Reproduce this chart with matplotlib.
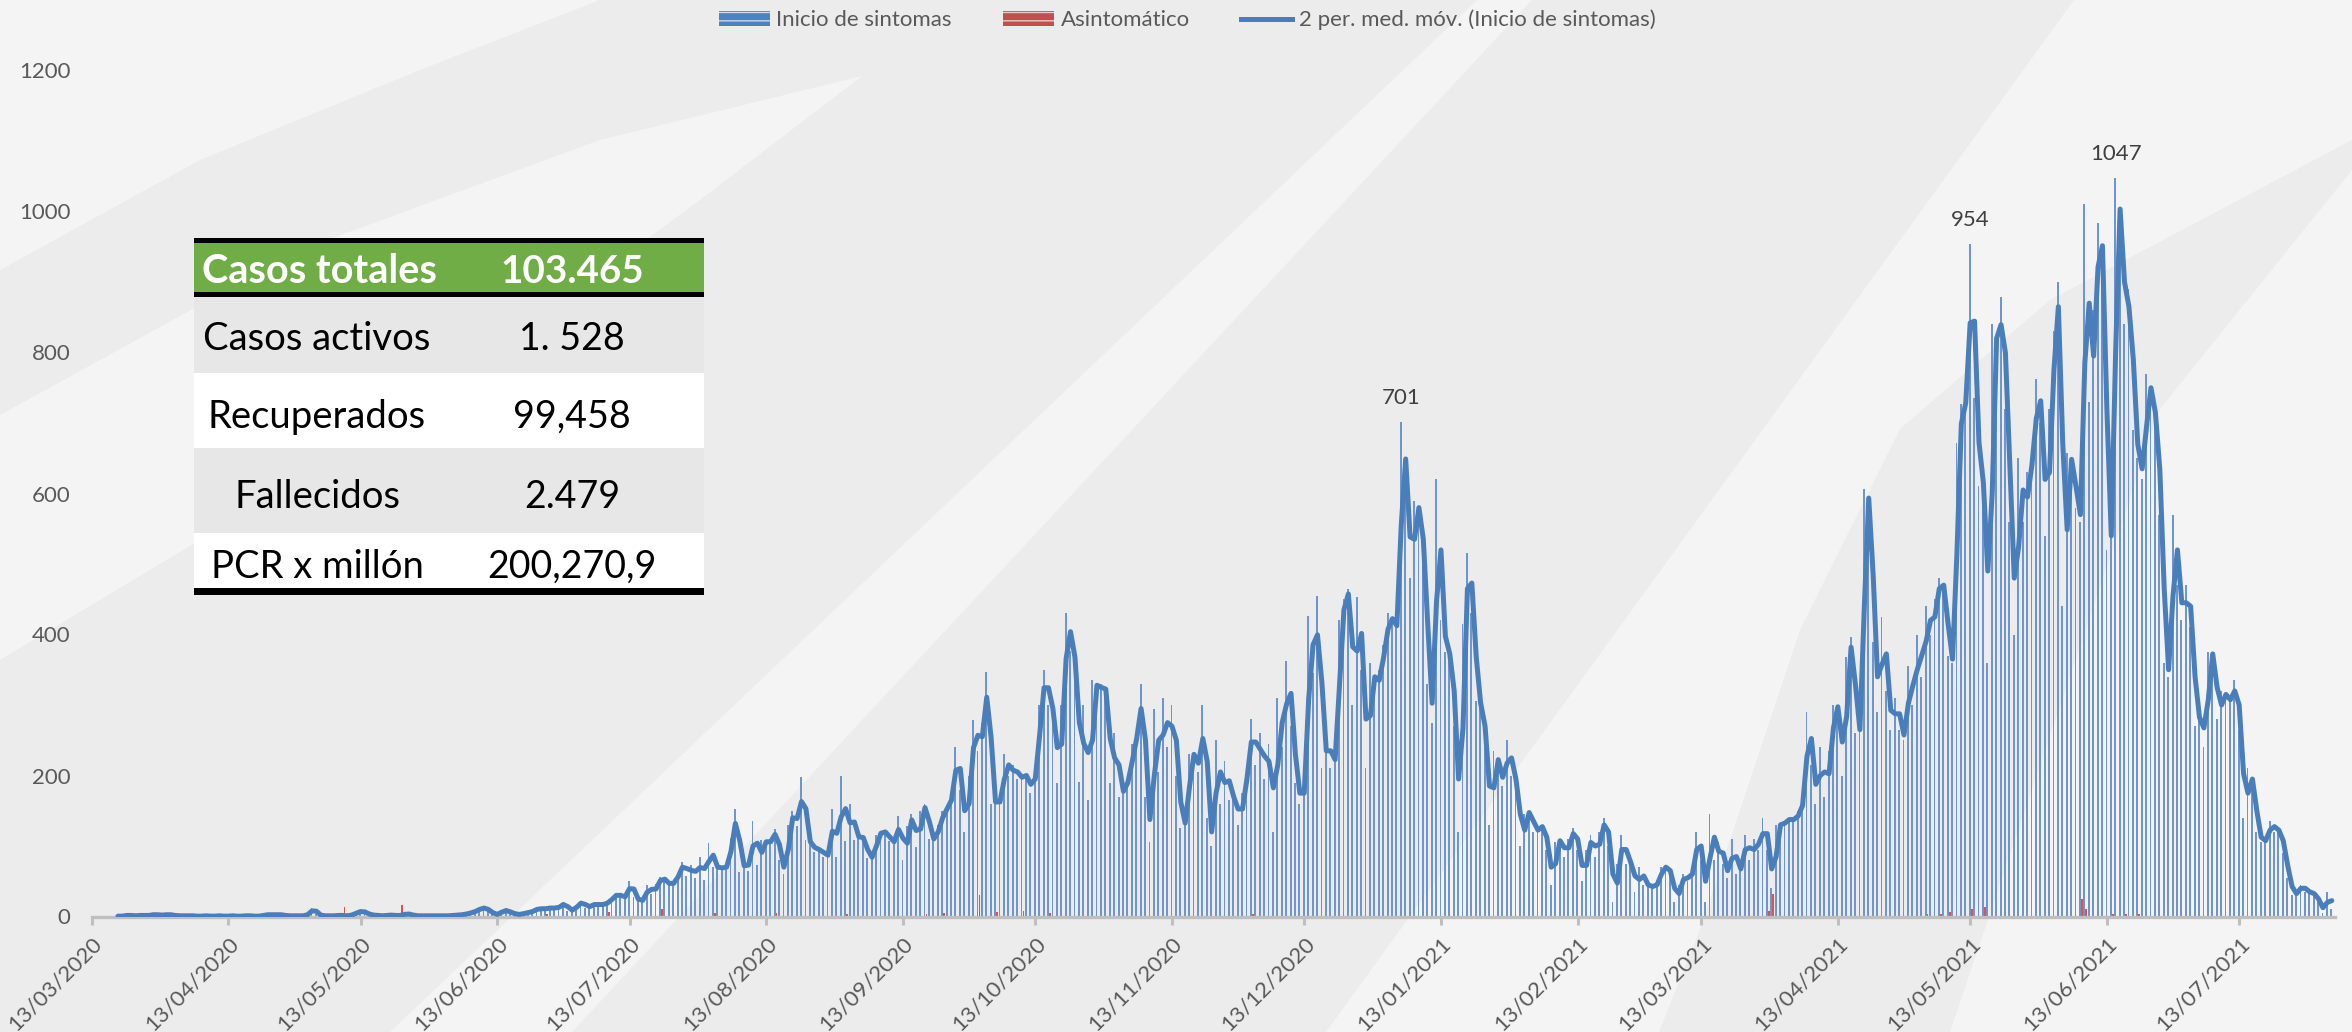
import matplotlib
matplotlib.use("Agg")
import matplotlib.pyplot as plt
import matplotlib.dates as mdates
from matplotlib.patches import Polygon, Rectangle, Patch
from matplotlib.lines import Line2D
import pandas as pd

# ---------------- data ----------------
fecha_inicio = "2020-03-18"
inicio_sintomas = [
    1, 0, 1, 2, 1,
    1, 2, 1, 2, 3, 2, 2, 3, 2, 1,
    1, 1, 1, 1, 0, 1, 1, 0, 1, 1,
    0, 1, 1, 0, 1, 1, 1, 0, 1,
    2, 3, 2, 3, 2, 1, 1, 1, 1, 1,
    4, 12, 3, 1, 1, 1, 1, 2, 1, 1,
    3, 6, 8, 5, 2, 2, 1, 1, 2, 2,
    1, 2, 4, 3, 1, 1, 1, 1, 1, 1,
    1, 1, 1, 2, 2, 3, 4, 6,
    8, 12, 12, 8, 3, 3, 9, 8, 5, 3, 3, 5,
    6, 8, 12, 10, 12, 12, 12, 14, 20, 8, 10, 16, 22, 12, 16, 18, 16, 18, 20, 28, 32, 28, 28,
    51, 27, 22, 24, 45, 32, 46, 56, 50, 44, 50, 62, 78, 58, 73, 55, 84, 52, 104,
    70, 70, 68, 72, 112, 152, 63, 81, 65, 135,
    73, 109, 103, 109, 124, 80, 60, 130, 150, 128, 198, 108, 104,
    92, 98, 84, 90, 152, 84, 199, 107, 159, 109, 117, 107,
    83, 85, 115, 121, 119, 107, 105, 142, 80, 128, 146, 98, 150, 159,
    110, 110, 130, 150, 155, 175, 240, 180, 120, 200, 279, 235, 275, 347,
    160, 165, 160, 230, 200, 215, 195, 200, 200, 175, 215, 300, 349, 300, 290,
    189, 300, 431, 377, 359, 191, 300, 165, 336, 320, 330, 315,
    190, 260, 170, 185, 195, 245, 260, 330, 170, 105, 295, 205, 310, 240, 300,
    200, 125, 140, 230, 230, 205, 300, 140, 100, 250, 160, 220, 165, 175, 130, 175, 215,
    280, 215, 260, 195, 245, 120, 310, 240, 363, 270, 190, 160, 190,
    426, 345, 454, 210, 260, 210, 235, 420, 450, 465, 300, 453, 350,
    210, 360, 320, 350, 385, 430, 415, 410, 701, 597, 480, 590, 570, 500,
    330, 275, 620, 420, 375, 370, 270, 120, 415, 515, 431, 305, 300, 240,
    130, 235, 210, 185, 250, 200, 190, 100, 145, 150, 120, 125, 130, 95,
    45, 105, 110, 85, 110, 125, 95, 50, 95, 115, 85, 120, 140, 100, 20,
    75, 115, 75, 80, 35, 70, 45, 45, 40, 50, 70, 70, 60, 20, 45, 60, 50, 70, 120, 80, 20,
    145, 80, 105, 75, 55, 110, 60, 75, 115, 80, 110, 95, 140, 95, 40, 130, 130, 135, 140, 135, 150, 165,
    290, 215, 160, 240, 170, 235, 300, 295, 200, 368, 396, 260, 270,
    607, 580, 390, 290, 425, 320, 265, 310, 265, 250, 355, 300, 400, 340, 440, 400, 450, 480, 460, 370,
    360, 671, 727, 730, 954, 735, 610, 620, 360, 840, 800, 879, 720, 560, 400,
    650, 560, 630, 650, 763, 700, 540, 720, 830, 900, 440, 657, 640, 580, 560,
    1010, 730, 860, 983, 920, 520, 560, 1047, 960, 840, 890, 690, 650, 620,
    770, 730, 700, 570, 360, 340, 570, 470, 420, 470, 410, 270, 295, 240, 375,
    370, 280, 320, 310, 305, 335, 265, 140, 210, 180, 120, 105, 110, 135, 120,
    125, 90, 55, 30, 35, 45, 35, 35, 30, 20, 5, 35, 10,
]

asintomatico_fechas = [
    "2020-03-27", "2020-04-04", "2020-05-09", "2020-05-22", "2020-06-24",
    "2020-07-08", "2020-07-20", "2020-08-01", "2020-08-15", "2020-08-31",
    "2020-09-18", "2020-09-22", "2020-09-30", "2020-10-04", "2020-10-10",
    "2020-10-16", "2020-12-01", "2021-03-28", "2021-03-29", "2021-05-03",
    "2021-05-06", "2021-05-08", "2021-05-13", "2021-05-16", "2021-06-07",
    "2021-06-08", "2021-06-14", "2021-06-17", "2021-06-20",
]
asintomatico_valores = [
    4, 4, 13, 17, 4,
    6, 10, 5, 5, 4,
    4, 5, 31, 6, 8,
    5, 3, 8, 32, 3,
    4, 6, 10, 14, 25,
    10, 4, 3, 3,
]

etiquetas_valores = [701, 954, 1047]

tabla_etiquetas = ["Casos totales", "Casos activos", "Recuperados", "Fallecidos", "PCR x millón"]
tabla_valores = ["103.465", "1. 528", "99,458", "2.479", "200,270,9"]

y_ticks = [0, 200, 400, 600, 800, 1000, 1200]
eje_x_inicio = "2020-03-13"
eje_x_ticks = [pd.Timestamp(eje_x_inicio) + pd.DateOffset(months=i) for i in range(17)]

leyenda = ["Inicio de sintomas", "Asintomático", "2 per. med. móv. (Inicio de sintomas)"]

# ---------------- style ----------------
FONT = "Lato"
plt.rcParams["font.family"] = [FONT, "DejaVu Sans"]
W, H = 2352, 1032
GRAY_TXT = "#595959"
BLUE_BAR = "#6f95cf"
BLUE_LINE = "#4a7ebb"
RED_BAR = "#d9534f"

fig = plt.figure(figsize=(W / 100, H / 100), dpi=100)
fig.patch.set_facecolor("#ececec")

# background decoration (pixel coordinates)
bg = fig.add_axes([0, 0, 1, 1], zorder=0)
bg.set_xlim(0, W)
bg.set_ylim(H, 0)
bg.axis("off")
light = "#f4f4f4"
shapes = [
    [(0, 0), (600, 0), (420, 70), (200, 160), (0, 270)],
    [(0, 415), (300, 250), (600, 140), (862, 76), (700, 200), (400, 420), (0, 660)],
    [(390, 1032), (572, 1032), (1532, 0), (1477, 0)],
    [(1326, 1032), (1659, 1032), (1700, 930), (1800, 630), (1900, 429),
     (2050, 300), (2352, 140), (2352, 0), (2074, 0)],
    [(1950, 1032), (2352, 1032), (2352, 170), (2160, 409)],
]
for s in shapes:
    bg.add_patch(Polygon(s, closed=True, facecolor=light, edgecolor="none"))

# main axes
x0, x1 = 91.5, 2335
y0, y1 = 916.5, 70.5
ax = fig.add_axes([x0 / W, 1 - y0 / H, (x1 - x0) / W, (y0 - y1) / H], zorder=1)
ax.patch.set_alpha(0)

fechas = pd.date_range(fecha_inicio, periods=len(inicio_sintomas), freq="D")
xd = mdates.date2num(fechas.to_pydatetime())
serie = pd.Series(inicio_sintomas, dtype=float)
media = serie.rolling(2).mean()

ax.bar(xd - 0.1, inicio_sintomas, width=0.42, color=BLUE_BAR,
       linewidth=0, zorder=2)
xr = mdates.date2num(pd.to_datetime(asintomatico_fechas).to_pydatetime())
ax.bar(xr + 0.35, asintomatico_valores, width=0.4, color=RED_BAR, linewidth=0, zorder=2)
ax.plot(xd, media, color=BLUE_LINE, lw=3.6, solid_joinstyle="round",
        solid_capstyle="round", zorder=3)

for v in etiquetas_valores:
    i = inicio_sintomas.index(v)
    ax.annotate(str(v), (xd[i], v), xytext=(0, 10), textcoords="offset points",
                ha="center", va="bottom", fontsize=16, color="#404040")

xstart = mdates.date2num(pd.Timestamp(eje_x_inicio).to_pydatetime())
ax.set_xlim(xstart, xstart + (x1 - x0) / 4.41)
ax.set_ylim(0, 1200)
ax.set_yticks(y_ticks)
ax.set_yticklabels([str(v) for v in y_ticks])
tick_nums = mdates.date2num([t.to_pydatetime() for t in eje_x_ticks])
ax.set_xticks(tick_nums)
ax.set_xticklabels([t.strftime("%d/%m/%Y") for t in eje_x_ticks], rotation=45,
                   ha="right", rotation_mode="anchor")
for s in ("top", "right", "left"):
    ax.spines[s].set_visible(False)
ax.spines["bottom"].set_color("#bfbfbf")
ax.spines["bottom"].set_linewidth(2.4)
ax.tick_params(axis="x", colors="#bfbfbf", length=6, width=2.2, pad=6,
               labelcolor=GRAY_TXT, labelsize=16)
ax.tick_params(axis="y", length=0, pad=15, labelcolor=GRAY_TXT, labelsize=16)

# legend
h_blue = Patch(facecolor="#4f81bd", edgecolor="#c9d8ee", hatch="--", linewidth=0)
h_red = Patch(facecolor="#c0504d", edgecolor="#efc7c6", hatch="--", linewidth=0)
h_line = Line2D([], [], color=BLUE_LINE, lw=3.6)
leg = fig.legend([h_blue, h_red, h_line], leyenda, loc="center",
                 bbox_to_anchor=(1187 / W, 1 - 20 / H), ncol=3, frameon=False,
                 fontsize=16, handlelength=2.3, handleheight=0.6,
                 handletextpad=0.3, columnspacing=2.3)
for t in leg.get_texts():
    t.set_color(GRAY_TXT)

# summary table (pixel coordinates)
tb = fig.add_axes([0, 0, 1, 1], zorder=3)
tb.set_xlim(0, W)
tb.set_ylim(H, 0)
tb.axis("off")
tl, tr = 194, 704
filas = [(243, 292, "#70ad47"), (297, 373, "#e7e7e7"), (373, 448, "#ffffff"),
         (448, 533, "#e7e7e7"), (533, 588, "#ffffff")]
for (a, b, c) in filas:
    tb.add_patch(Rectangle((tl, a), tr - tl, b - a, facecolor=c, edgecolor="none"))
for (a, b) in [(238, 243), (292, 297), (588, 595)]:
    tb.add_patch(Rectangle((tl, a), tr - tl, b - a, facecolor="black", edgecolor="none"))
bases = [283, 350, 428, 508, 578]
for k, (lab, val) in enumerate(zip(tabla_etiquetas, tabla_valores)):
    if k == 0:
        tb.text(202, bases[k], lab, ha="left", va="baseline", color="white",
                fontweight="bold", fontsize=28.5)
        tb.text(572, bases[k], val, ha="center", va="baseline", color="white",
                fontweight="bold", fontsize=27.8)
    else:
        tb.text(317, bases[k], lab, ha="center", va="baseline", color="black",
                fontsize=27.5)
        tb.text(572, bases[k], val, ha="center", va="baseline", color="black",
                fontsize=27)

fig.savefig("out.png", dpi=100, facecolor=fig.get_facecolor())
